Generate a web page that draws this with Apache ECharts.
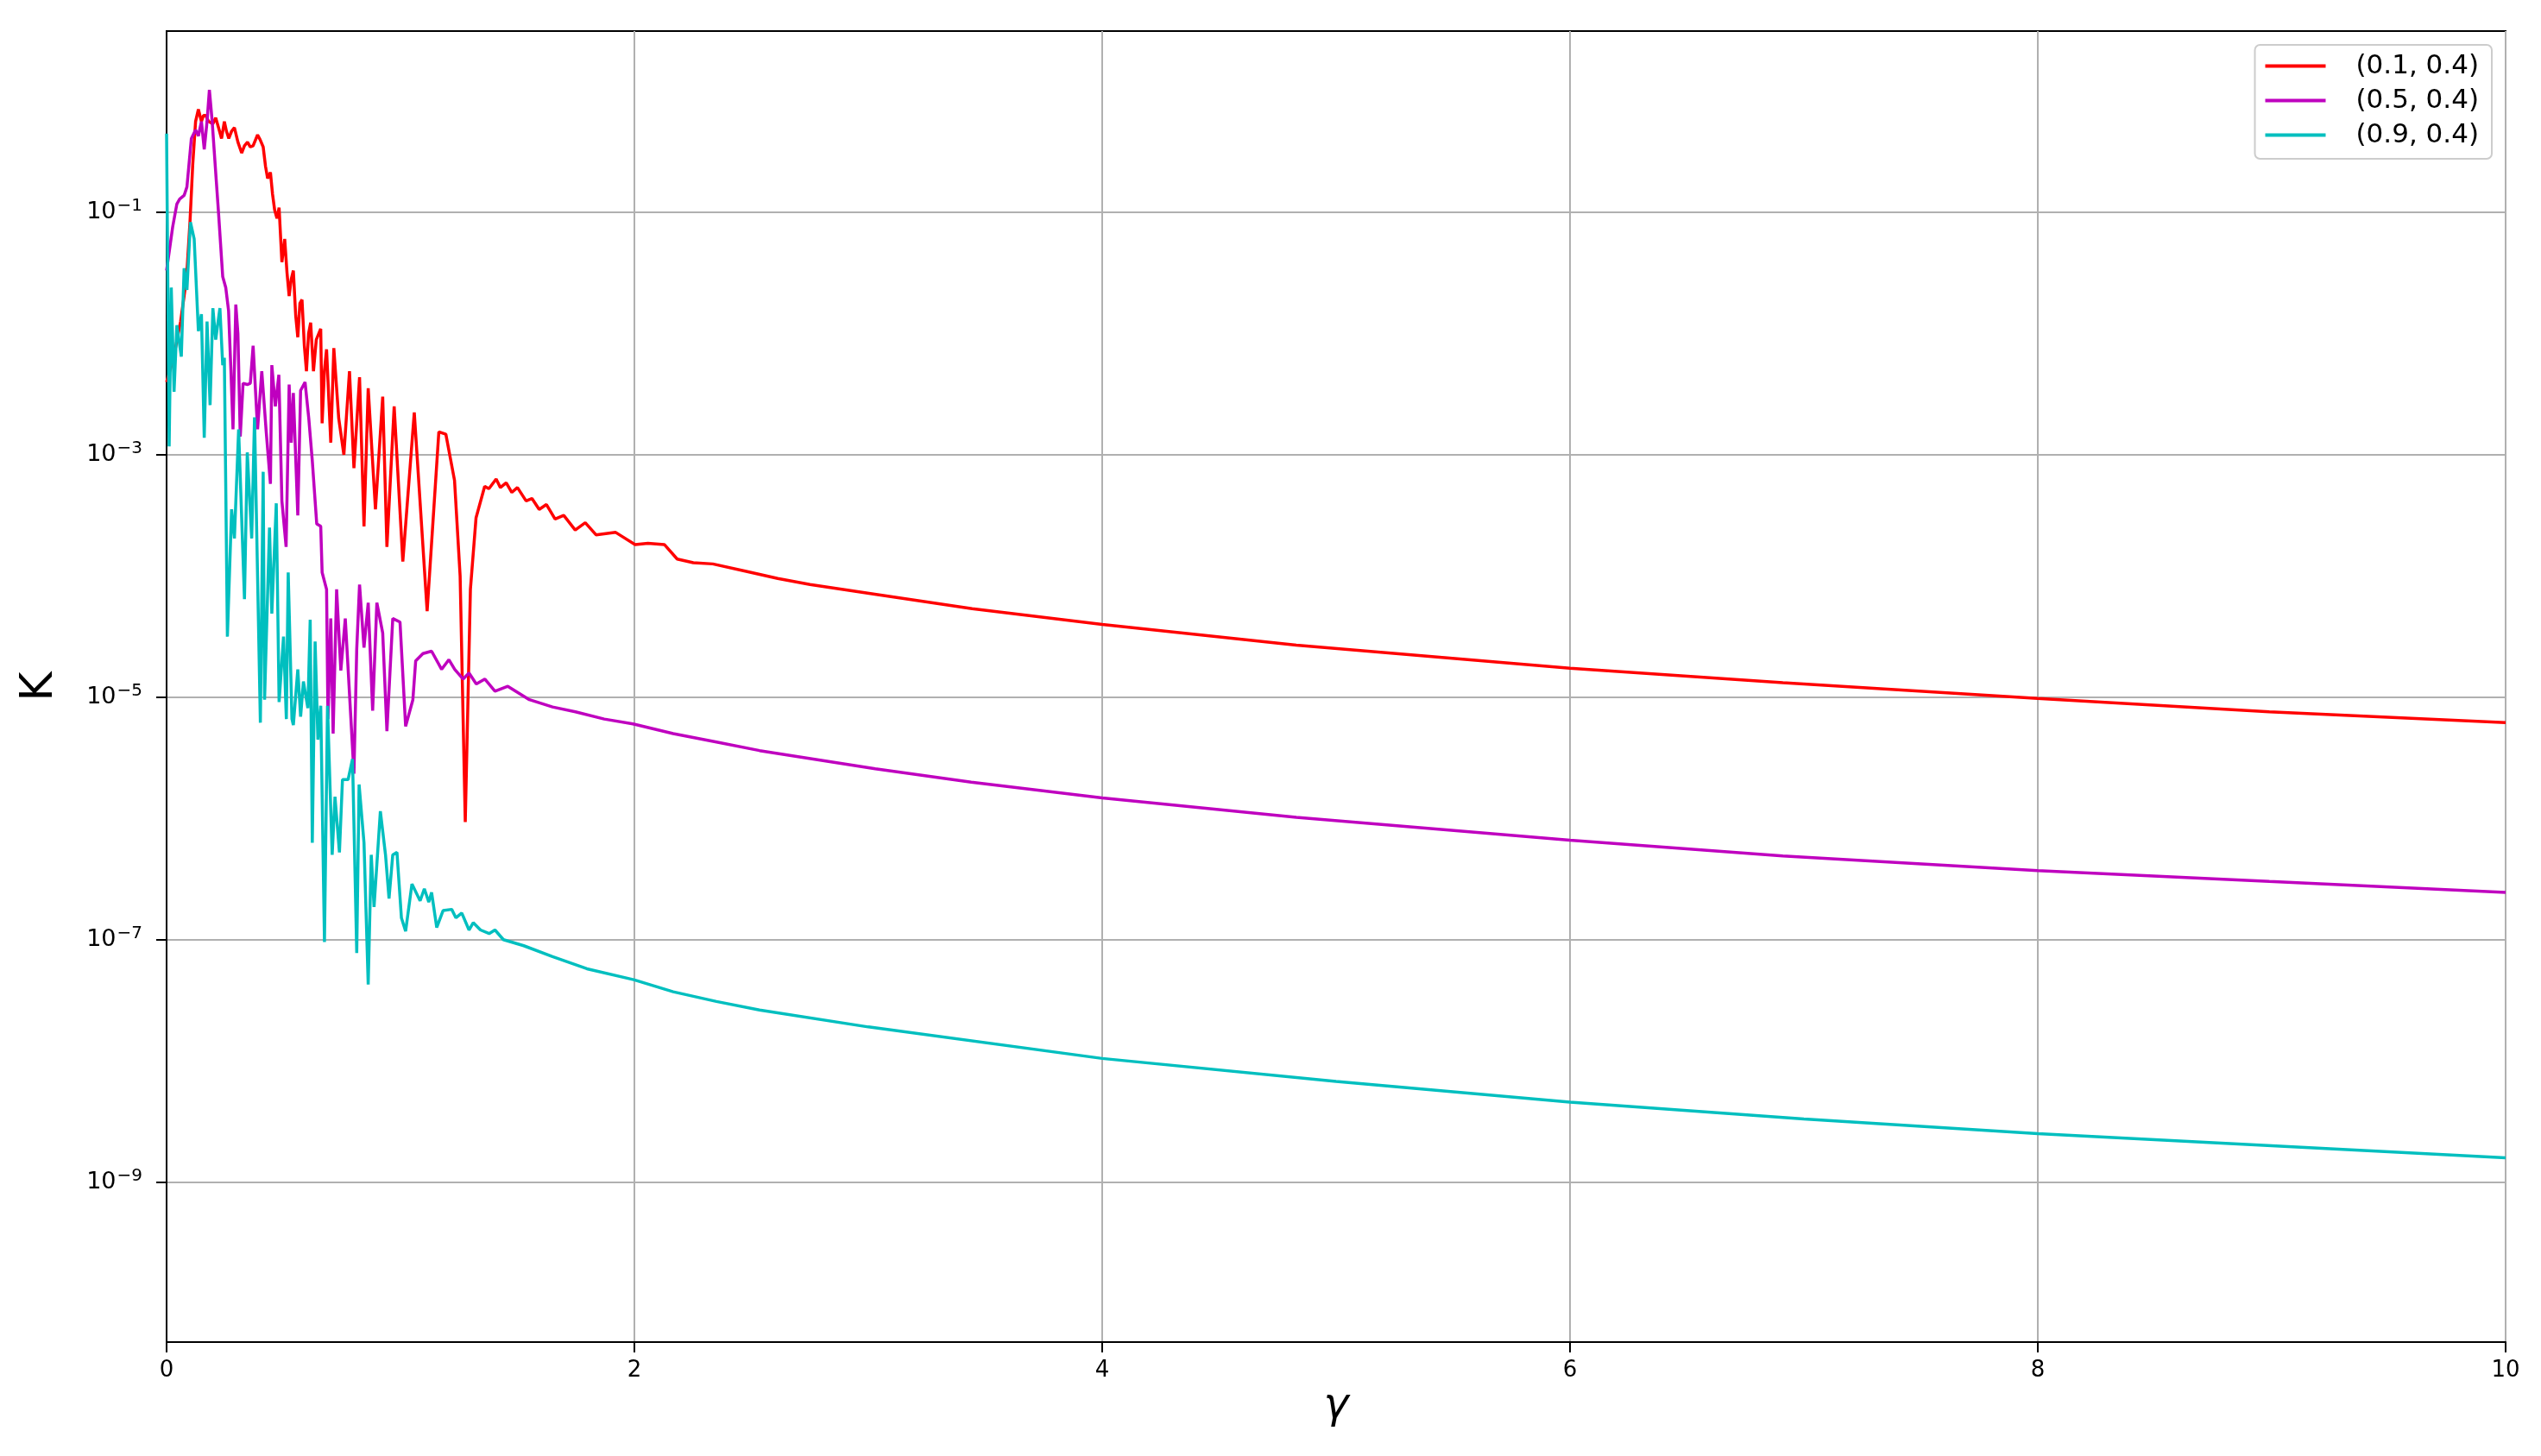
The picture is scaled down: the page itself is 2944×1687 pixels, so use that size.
<!DOCTYPE html>
<html>
<head>
<meta charset="utf-8">
<script src="https://cdn.jsdelivr.net/npm/echarts@6/dist/echarts.min.js"></script>
<style>
  html, body { margin: 0; padding: 0; background: #fff; }
  #chart { width: 2944px; height: 1687px; }
</style>
</head>
<body>
<div id="chart"></div>
<script>
// points are [gamma, log10(K)]
const seriesNames = ["(0.1, 0.4)", "(0.5, 0.4)", "(0.9, 0.4)"];
const seriesColors = ["#ff0000", "#bf00bf", "#00bfbf"];

const redPoints = [
  [0, -2.4], [0.03, -2.2], [0.06, -1.9], [0.085, -1.55], [0.1, -1.08], [0.112, -0.6], [0.124, -0.25],
  [0.136, -0.15], [0.149, -0.25], [0.158, -0.2], [0.167, -0.2], [0.18, -0.25], [0.198, -0.27], [0.21, -0.22],
  [0.222, -0.3], [0.235, -0.39], [0.247, -0.25], [0.256, -0.33], [0.266, -0.39], [0.278, -0.33], [0.29, -0.3],
  [0.305, -0.42], [0.321, -0.51], [0.333, -0.45], [0.346, -0.42], [0.358, -0.46], [0.37, -0.45], [0.389, -0.36],
  [0.4, -0.4], [0.413, -0.46], [0.423, -0.62], [0.432, -0.72], [0.444, -0.67], [0.453, -0.85], [0.462, -0.98],
  [0.472, -1.05], [0.481, -0.96], [0.493, -1.41], [0.505, -1.22], [0.515, -1.5], [0.524, -1.69], [0.533, -1.55],
  [0.542, -1.48], [0.552, -1.85], [0.561, -2.03], [0.57, -1.75], [0.579, -1.72], [0.589, -2.1], [0.598, -2.31],
  [0.607, -2.0], [0.616, -1.91], [0.628, -2.31], [0.64, -2.05], [0.659, -1.96], [0.665, -2.74], [0.675, -2.3],
  [0.684, -2.13], [0.702, -2.9], [0.715, -2.12], [0.736, -2.7], [0.758, -3.0], [0.782, -2.31], [0.801, -3.11],
  [0.825, -2.36], [0.844, -3.59], [0.862, -2.45], [0.893, -3.45], [0.924, -2.52], [0.942, -3.76], [0.973, -2.6],
  [1.01, -3.88], [1.059, -2.65], [1.114, -4.29], [1.164, -2.81], [1.194, -2.83], [1.231, -3.21], [1.255, -4.0],
  [1.277, -6.03], [1.299, -4.11], [1.323, -3.52], [1.36, -3.26], [1.378, -3.28], [1.409, -3.2], [1.427, -3.27],
  [1.452, -3.23], [1.476, -3.31], [1.5, -3.27], [1.537, -3.38], [1.562, -3.36], [1.593, -3.45], [1.624, -3.41],
  [1.661, -3.53], [1.698, -3.5], [1.747, -3.62], [1.79, -3.56], [1.836, -3.66], [1.92, -3.64], [2.003, -3.74],
  [2.058, -3.73], [2.128, -3.74], [2.183, -3.86], [2.252, -3.89], [2.335, -3.9], [2.474, -3.96], [2.613, -4.02],
  [2.751, -4.07], [3.028, -4.15], [3.444, -4.27], [4.0, -4.4], [4.83, -4.57], [6.0, -4.76], [6.91, -4.88],
  [8.0, -5.01], [8.99, -5.12], [10, -5.21]
];

const magentaPoints = [
  [0, -1.48], [0.026, -1.12], [0.044, -0.93], [0.056, -0.89], [0.075, -0.86], [0.087, -0.79], [0.106, -0.39],
  [0.124, -0.32], [0.136, -0.37], [0.149, -0.25], [0.161, -0.48], [0.173, -0.25], [0.183, 0.01], [0.195, -0.25],
  [0.21, -0.67], [0.222, -1.0], [0.24, -1.53], [0.253, -1.62], [0.265, -1.81], [0.275, -2.3], [0.284, -2.79],
  [0.296, -1.76], [0.305, -2.0], [0.315, -2.85], [0.327, -2.41], [0.345, -2.42], [0.358, -2.41], [0.37, -2.1],
  [0.389, -2.79], [0.407, -2.31], [0.426, -2.81], [0.444, -3.24], [0.45, -2.26], [0.465, -2.6], [0.48, -2.34],
  [0.493, -3.38], [0.511, -3.76], [0.524, -2.42], [0.533, -2.9], [0.542, -2.49], [0.561, -3.5], [0.573, -2.47],
  [0.592, -2.4], [0.608, -2.7], [0.623, -3.05], [0.642, -3.57], [0.659, -3.59], [0.665, -3.97], [0.684, -4.11],
  [0.69, -5.18], [0.702, -4.35], [0.712, -5.3], [0.727, -4.11], [0.745, -4.78], [0.764, -4.35], [0.78, -4.9],
  [0.801, -5.63], [0.813, -4.6], [0.825, -4.07], [0.844, -4.59], [0.862, -4.22], [0.881, -5.11], [0.899, -4.22],
  [0.924, -4.47], [0.942, -5.28], [0.967, -4.35], [0.998, -4.38], [1.022, -5.24], [1.053, -5.02], [1.065, -4.7],
  [1.096, -4.64], [1.133, -4.62], [1.176, -4.77], [1.207, -4.69], [1.232, -4.77], [1.268, -4.85], [1.293, -4.8],
  [1.324, -4.89], [1.361, -4.85], [1.404, -4.95], [1.459, -4.91], [1.551, -5.02], [1.65, -5.08], [1.748, -5.12],
  [1.871, -5.18], [1.994, -5.22], [2.166, -5.3], [2.351, -5.37], [2.535, -5.44], [3.03, -5.59], [3.44, -5.7],
  [4.0, -5.83], [4.83, -5.99], [6.0, -6.18], [6.91, -6.31], [8.0, -6.43], [8.99, -6.52], [10, -6.61]
];

const cyanPoints = [
  [0, -0.35], [0.011, -2.93], [0.02, -1.62], [0.032, -2.48], [0.044, -1.93], [0.063, -2.19], [0.075, -1.46],
  [0.087, -1.64], [0.102, -1.08], [0.118, -1.22], [0.136, -1.98], [0.149, -1.84], [0.161, -2.86], [0.173, -1.9],
  [0.186, -2.59], [0.198, -1.79], [0.21, -2.05], [0.228, -1.79], [0.24, -2.26], [0.247, -2.2], [0.26, -4.5],
  [0.278, -3.45], [0.29, -3.69], [0.308, -2.79], [0.333, -4.19], [0.345, -2.98], [0.364, -3.69], [0.376, -2.69],
  [0.401, -5.21], [0.413, -3.14], [0.419, -5.02], [0.44, -3.6], [0.45, -4.31], [0.469, -3.4], [0.481, -5.04],
  [0.5, -4.5], [0.512, -5.18], [0.52, -3.97], [0.536, -5.18], [0.542, -5.23], [0.561, -4.77], [0.573, -5.16],
  [0.585, -4.87], [0.604, -5.09], [0.614, -4.36], [0.623, -6.2], [0.635, -4.54], [0.647, -5.35], [0.659, -5.07],
  [0.675, -7.02], [0.688, -5.07], [0.708, -6.3], [0.72, -5.82], [0.739, -6.28], [0.752, -5.68], [0.776, -5.68],
  [0.795, -5.51], [0.813, -7.11], [0.823, -5.72], [0.844, -6.2], [0.862, -7.37], [0.875, -6.3], [0.887, -6.73],
  [0.914, -5.94], [0.936, -6.3], [0.951, -6.66], [0.967, -6.3], [0.985, -6.28], [1.004, -6.82], [1.022, -6.93],
  [1.049, -6.54], [1.084, -6.68], [1.102, -6.58], [1.121, -6.69], [1.133, -6.61], [1.155, -6.9], [1.182, -6.76],
  [1.219, -6.75], [1.237, -6.82], [1.262, -6.78], [1.293, -6.92], [1.311, -6.86], [1.342, -6.92], [1.379, -6.95],
  [1.404, -6.92], [1.44, -7.0], [1.527, -7.05], [1.65, -7.14], [1.797, -7.24], [1.997, -7.33], [2.166, -7.43],
  [2.351, -7.51], [2.535, -7.58], [3.0, -7.72], [4.0, -7.98], [5.0, -8.17], [6.0, -8.34], [7.0, -8.48],
  [8.0, -8.6], [9.0, -8.7], [10, -8.8]
];

const xTickValues = [0, 2, 4, 6, 8, 10];
const yTickValues = [1e-9, 1e-7, 1e-5, 1e-3, 1e-1];
const yMinExp = -10.32;
const yMaxExp = 0.496;

const font = "DejaVu Sans";
const gridColor = "#b0b0b0";

const chart = echarts.init(document.getElementById("chart"), null, { renderer: "canvas" });

function toK(points) {
  return points.map(([g, e]) => [g, Math.pow(10, e)]);
}

function lineSeries(name, points, color) {
  return {
    name,
    type: "line",
    data: toK(points),
    showSymbol: false,
    symbol: "none",
    lineStyle: { width: 3.5, color },
    itemStyle: { color },
    emphasis: { disabled: true },
  };
}

chart.setOption({
  animation: false,
  backgroundColor: "#ffffff",
  textStyle: { fontFamily: font, color: "#000" },
  grid: {
    left: 193, right: 41, top: 36, bottom: 132,
    show: true, borderColor: "#000", borderWidth: 2, backgroundColor: "transparent",
  },
  legend: {
    data: seriesNames,
    orient: "vertical",
    right: 57,
    top: 52,
    icon: "rect",
    itemWidth: 70,
    itemHeight: 4,
    itemGap: 9,
    padding: [9, 15, 12, 12],
    backgroundColor: "rgba(255,255,255,0.8)",
    borderColor: "#cccccc",
    borderWidth: 2,
    borderRadius: 6,
    textStyle: { fontFamily: font, fontSize: 31, color: "#000", padding: [0, 0, 0, 30], lineHeight: 30 },
  },
  xAxis: {
    type: "value",
    min: 0,
    max: 10,
    interval: 2,
    name: "γ",
    nameLocation: "middle",
    nameGap: 46,
    nameTextStyle: { fontFamily: font, fontStyle: "italic", fontSize: 49, color: "#000" },
    axisLine: { show: true, onZero: false, lineStyle: { color: "#000", width: 2 } },
    axisTick: { show: true, length: 12, lineStyle: { color: "#000", width: 2 } },
    axisLabel: { fontFamily: font, fontSize: 26, color: "#000", margin: 20, customValues: xTickValues },
    splitLine: { show: true, lineStyle: { color: gridColor, width: 2 } },
  },
  yAxis: {
    type: "log",
    logBase: 10,
    min: Math.pow(10, yMinExp),
    max: Math.pow(10, yMaxExp),
    name: "K",
    nameLocation: "middle",
    nameRotate: 90,
    nameGap: 121,
    nameTextStyle: { fontFamily: font, fontSize: 52, color: "#000" },
    axisLine: { show: true, lineStyle: { color: "#000", width: 2 } },
    axisTick: { show: true, length: 12, lineStyle: { color: "#000", width: 2 }, customValues: yTickValues },
    axisLabel: {
      margin: 28,
      customValues: yTickValues,
      formatter: (value) => {
        const n = Math.round(Math.log10(value));
        return `{b|10}{s|${n < 0 ? "\u2212" : ""}${Math.abs(n)}}`;
      },
      rich: {
        b: { fontFamily: font, fontSize: 27, color: "#000" },
        s: { fontFamily: font, fontSize: 20, color: "#000", padding: [0, 0, 14, 1] },
      },
    },
    splitLine: { show: true, lineStyle: { color: gridColor, width: 2 } },
  },
  series: [
    lineSeries(seriesNames[0], redPoints, seriesColors[0]),
    lineSeries(seriesNames[1], magentaPoints, seriesColors[1]),
    lineSeries(seriesNames[2], cyanPoints, seriesColors[2]),
  ],
});
</script>
</body>
</html>
